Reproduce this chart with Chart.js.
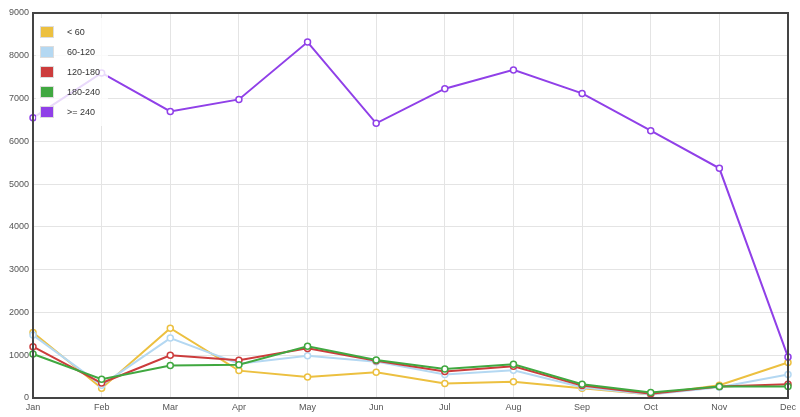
<!DOCTYPE html><html><head><meta charset="utf-8">
<script src="https://cdn.jsdelivr.net/npm/chart.js@4"></script>
<style>body{margin:0;background:#fff;font-family:"Liberation Sans",Arial,sans-serif}
#w{position:relative;width:800px;height:417px}
#lg{position:absolute;left:36px;top:18px;padding:4px 8px 4px 4px;font-size:9px;color:#333;background:rgba(255,255,255,0.8)}
#lg div{height:20px;display:flex;align-items:center}
#lg span{display:inline-block;width:12px;height:10px;margin-right:13px;border:1px solid #ddd}
</style></head><body><div id="w"><canvas id="c" width="800" height="417"></canvas><div id="lg"></div></div>
<script>
const months=["Jan","Feb","Mar","Apr","May","Jun","Jul","Aug","Sep","Oct","Nov","Dec"];
const seriesNames=["< 60","60-120","120-180","180-240",">= 240"];
const lt60=[1530,230,1630,640,490,600,340,380,230,80,300,830];
const s60_120=[1470,300,1400,800,990,850,550,650,250,80,250,550];
const s120_180=[1200,350,1000,880,1160,870,620,740,290,100,270,320];
const s180_240=[1030,440,760,780,1210,890,680,790,320,130,270,270];
const ge240=[6550,7600,6700,6980,8320,6420,7230,7670,7120,6250,5370,960];
const colors=["#ecc040","#b4d8f2","#cc3c3c","#40a840","#9040e8"];
const data=[lt60,s60_120,s120_180,s180_240,ge240];
const lg=document.getElementById('lg');
seriesNames.forEach((n,i)=>{const d=document.createElement('div');d.innerHTML='<span style="background:'+colors[i]+'"></span>'+n.replace('<','&lt;');lg.appendChild(d);});
new Chart(document.getElementById('c'),{type:'line',
data:{labels:months,datasets:data.map((d,i)=>({label:seriesNames[i],data:d,borderColor:colors[i],backgroundColor:'#fff',borderWidth:2,pointRadius:3,pointBorderWidth:1.5,pointBackgroundColor:'#fff',pointBorderColor:colors[i],tension:0,order:4-i}))},
options:{responsive:false,animation:false,layout:{padding:{top:13,right:9,left:0,bottom:0}},
plugins:{legend:{display:false},tooltip:{enabled:false}},
scales:{x:{grid:{color:'#e4e4e4',drawTicks:false},border:{color:'#444',width:2},ticks:{color:'#555',font:{size:9,family:'Liberation Sans'},padding:4,maxRotation:0},afterFit:s=>{s.height=19}},
y:{min:0,max:9000,grid:{color:'#e4e4e4',drawTicks:false},border:{color:'#444',width:2},ticks:{stepSize:1000,color:'#555',font:{size:9,family:'Liberation Sans'},padding:4,callback:v=>String(v)},afterFit:s=>{s.width=33}}}},
plugins:[{id:'frame',afterDraw(ch){const a=ch.chartArea,c=ch.ctx;c.save();c.strokeStyle='#444';c.lineWidth=2;c.strokeRect(a.left,a.top,a.right-a.left,a.bottom-a.top);c.restore();}}]
});
</script></body></html>
